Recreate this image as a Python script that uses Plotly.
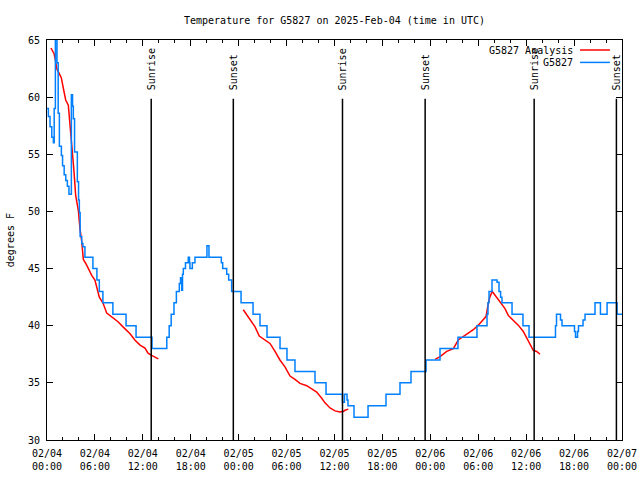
import plotly.graph_objects as go

# ---- data (hours since 2025-02-04 00:00 UTC, degrees F) ----
obs_hours = [0.0, 0.17, 0.38, 0.6, 0.8, 0.9, 1.05, 1.25, 1.4, 1.55, 1.8, 1.95, 2.15, 2.35, 2.55, 2.75,
             3.05, 3.2, 3.3, 3.45, 3.8, 3.95, 4.05, 4.15, 4.35, 4.5, 4.75, 5.75, 6.25, 6.55, 7.0, 8.25,
             9.9, 11.15, 13.15, 15.0, 15.3, 15.55, 15.9, 16.2, 16.57, 16.72, 16.87, 16.97, 17.07, 17.34,
             17.69, 17.84, 17.9, 18.2, 18.53, 20.03, 20.28, 21.83, 22.0, 22.5, 22.75, 23.12, 24.3, 25.8,
             26.67, 27.55, 29.18, 30.05, 31.05, 33.56, 34.94, 37.0, 37.25, 37.57, 37.69, 38.44, 40.2,
             42.45, 44.2, 45.58, 47.46, 49.21, 51.46, 53.84, 55.1, 55.22, 55.35, 55.72, 56.35, 56.6,
             56.8, 56.97, 58.23, 59.6, 60.36, 63.67, 63.8, 64.3, 64.49, 66.05, 66.18, 66.43, 66.55,
             67.12, 67.37, 68.62, 69.3, 70.13, 71.38, 72.0]
obs_temps = [59.0, 58.3, 57.4, 56.5, 56.0, 59.0, 66.5, 63.0, 58.6, 55.7, 54.9, 54.0, 53.2, 52.7, 52.2, 51.5,
             60.2, 59.2, 58.1, 55.2, 52.6, 51.0, 49.9, 47.8, 47.2, 46.9, 46.0, 45.0, 44.0, 43.0, 42.0, 41.0,
             40.0, 39.0, 38.0, 39.0, 40.0, 41.0, 42.0, 43.0, 43.7, 44.2, 43.1, 44.5, 45.0, 45.5,
             46.0, 45.5, 45.0, 45.5, 46.0, 47.0, 46.0, 45.5, 45.0, 44.5, 44.0, 43.0, 42.0, 41.0,
             40.0, 39.0, 38.0, 37.0, 36.0, 35.0, 34.0, 33.3, 34.0, 33.5, 33.0, 32.0, 33.0,
             34.0, 35.0, 36.0, 37.0, 38.0, 39.0, 40.0, 41.0, 42.0, 43.0, 44.0, 43.8, 43.0,
             42.5, 42.0, 41.0, 40.0, 39.0, 40.0, 41.0, 40.5, 40.0, 39.5, 39.0, 39.5, 40.0,
             40.5, 41.0, 42.0, 41.0, 42.0, 41.0, 41.0]

ana1_hours = [0.5, 0.88, 1.09, 1.21, 1.5, 1.79, 2.04, 2.34, 2.67, 2.88, 3.17, 3.38, 3.59, 3.92, 4.13, 4.35,
              4.55, 4.97, 5.6, 6.0, 6.55, 7.0, 7.48, 8.26, 8.89, 9.52, 10.4, 11.0, 11.65, 12.27, 12.65,
              13.1, 13.94]
ana1_temps = [64.3, 63.8, 63.1, 62.5, 62.1, 61.7, 60.8, 59.75, 59.3, 57.6, 55.8, 53.5, 51.4, 50.1, 48.5, 47.35,
              45.8, 45.3, 44.4, 44.0, 42.5, 42.0, 41.1, 40.7, 40.35, 39.9, 39.3, 38.75, 38.3, 38.05, 37.6,
              37.4, 37.1]
ana2_hours = [24.58, 25.0, 25.63, 26.05, 26.58, 27.3, 27.92, 28.55, 29.17, 29.8, 30.43, 31.05, 31.68, 32.52,
              33.15, 33.77, 34.4, 34.81, 35.44, 36.06, 36.69, 37.1, 37.32, 37.73]
ana2_temps = [41.4, 40.95, 40.35, 39.9, 39.1, 38.75, 38.45, 37.75, 37.0, 36.4, 35.6, 35.3, 34.95, 34.75,
              34.5, 34.2, 33.65, 33.25, 32.8, 32.55, 32.45, 32.5, 32.6, 32.7]
ana3_hours = [48.59, 49.22, 50.05, 50.88, 51.5, 52.13, 52.75, 53.38, 54.0, 54.63, 54.97, 55.26, 55.47, 55.76,
              56.1, 56.51, 56.94, 57.35, 57.76, 58.39, 59.01, 59.64, 60.07, 60.48, 60.89, 61.32, 61.73]
ana3_temps = [37.05, 37.3, 37.75, 38.0, 38.75, 39.05, 39.35, 39.65, 40.05, 40.5, 40.8, 41.95, 42.55, 43.0,
              42.7, 42.25, 41.95, 41.5, 40.9, 40.5, 40.05, 39.5, 38.9, 38.3, 37.85, 37.75, 37.5]

sun_hours = [13.05, 23.33, 37.0, 47.35, 61.0, 71.3]
sun_labels = ["Sunrise", "Sunset", "Sunrise", "Sunset", "Sunrise", "Sunset"]

tick_hours = [0, 6, 12, 18, 24, 30, 36, 42, 48, 54, 60, 66, 72]
tick_labels = ["02/04<br>00:00", "02/04<br>06:00", "02/04<br>12:00", "02/04<br>18:00",
               "02/05<br>00:00", "02/05<br>06:00", "02/05<br>12:00", "02/05<br>18:00",
               "02/06<br>00:00", "02/06<br>06:00", "02/06<br>12:00", "02/06<br>18:00",
               "02/07<br>00:00"]

RED = "#ff0000"
BLUE = "#0080ff"
FONT = "DejaVu Sans Mono"

ana_x = ana1_hours + [None] + ana2_hours + [None] + ana3_hours
ana_y = ana1_temps + [None] + ana2_temps + [None] + ana3_temps

fig = go.Figure()
fig.add_trace(go.Scatter(x=ana_x, y=ana_y, mode="lines", name="G5827 Analysis",
                         line=dict(color=RED, width=1.5), connectgaps=False))
fig.add_trace(go.Scatter(x=obs_hours, y=obs_temps, mode="lines", name="G5827",
                         line=dict(color=BLUE, width=1.5, shape="hv")))

for h, lab in zip(sun_hours, sun_labels):
    fig.add_shape(type="line", xref="x", yref="y", x0=h, x1=h, y0=30, y1=59.85,
                  line=dict(color="black", width=1.5))
    fig.add_annotation(x=h, xref="x", y=0.87, yref="paper", text=lab, textangle=-90,
                       showarrow=False, xanchor="center", yanchor="bottom",
                       font=dict(family=FONT, size=10, color="black"))

# manual gnuplot-style legend (text left of sample line)
legend_rows = [("G5827 Analysis", RED, 0.975), ("G5827", BLUE, 0.944)]
for txt, col, yy in legend_rows:
    fig.add_annotation(x=0.918, xref="paper", y=yy, yref="paper", text=txt, showarrow=False,
                       xanchor="right", yanchor="middle", font=dict(family=FONT, size=10, color="black"))
    fig.add_shape(type="line", xref="paper", yref="paper", x0=0.927, x1=0.979, y0=yy, y1=yy,
                  line=dict(color=col, width=1.5))

fig.add_annotation(x=-0.064, xref="paper", y=0.5, yref="paper", text="degrees F", textangle=-90,
                   showarrow=False, xanchor="center", yanchor="middle",
                   font=dict(family=FONT, size=10, color="black"))

fig.update_layout(
    width=640, height=480,
    margin=dict(l=47, r=18, t=40, b=40, autoexpand=False),
    paper_bgcolor="white", plot_bgcolor="white",
    showlegend=False,
    hovermode=False,
    font=dict(family=FONT, size=10, color="black"),
    title=dict(text="Temperature for G5827 on 2025-Feb-04 (time in UTC)", x=0.5, xref="paper",
               y=1 - 20 / 480, yref="container", xanchor="center", yanchor="middle",
               font=dict(family=FONT, size=10, color="black")),
)
fig.update_xaxes(range=[0, 72], tickvals=tick_hours, ticktext=tick_labels,
                 showgrid=False, zeroline=False, showline=True, linecolor="black", linewidth=1,
                 mirror="ticks", ticks="inside", ticklen=6, tickcolor="black", ticklabelstandoff=4,
                 minor=dict(dtick=2, tick0=0, ticks="inside", ticklen=3, tickcolor="black", showgrid=False),
                 tickfont=dict(family=FONT, size=10, color="black"))
fig.update_yaxes(range=[30, 65], tickvals=[30, 35, 40, 45, 50, 55, 60, 65],
                 showgrid=False, zeroline=False, showline=True, linecolor="black", linewidth=1,
                 mirror="ticks", ticks="inside", ticklen=6, tickcolor="black", ticklabelstandoff=4,
                 tickfont=dict(family=FONT, size=10, color="black"))

fig.write_html("out.html", config={"displayModeBar": False},
               post_script="document.body.style.margin='0';")
